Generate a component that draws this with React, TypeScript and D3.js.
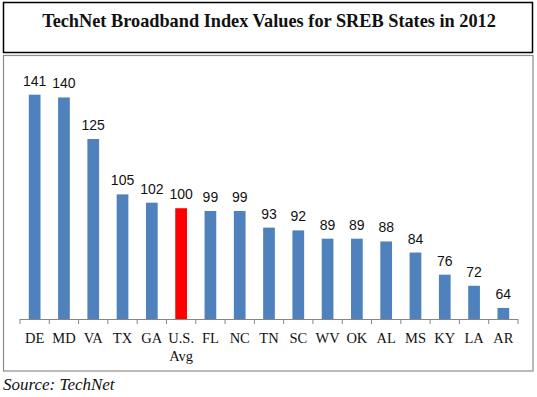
import React from 'react';
import * as d3 from 'd3';

const states = ['DE', 'MD', 'VA', 'TX', 'GA', 'U.S. Avg', 'FL', 'NC', 'TN', 'SC', 'WV', 'OK', 'AL', 'MS', 'KY', 'LA', 'AR'];
const values = [141, 140, 125, 105, 102, 100, 99, 99, 93, 92, 89, 89, 88, 84, 76, 72, 64];
const highlight = 'U.S. Avg';

const W = 537;
const H = 397;

const App = () => {
  const x0 = 20;
  const x1 = 518;
  const baseY = 319;

  // Excel-style: bars centred in each category slot
  const x = d3.scaleBand<string>()
    .domain(states)
    .range([x0, x1])
    .paddingInner(0.6)
    .paddingOuter(0.3);

  const y = d3.scaleLinear().domain([60, 145]).range([baseY, 83.6]);

  const step = (x1 - x0) / states.length;
  const ticks = d3.range(states.length + 1).map(i => x0 + i * step);

  return (
    <svg width={W} height={H} style={{ position: 'absolute', left: 0, top: 0, background: '#fff' }}>
      {/* title box */}
      <rect x={3.5} y={2.5} width={529} height={50} fill="#fff" stroke="#000" strokeWidth={1.5} />
      <text x={269} y={27} textAnchor="middle" fontFamily="'Liberation Serif', serif" fontWeight="bold" fontSize={18.3} fill="#111">
        TechNet Broadband Index Values for SREB States in 2012
      </text>

      {/* chart box */}
      <rect x={3.5} y={55.5} width={529.5} height={315.5} fill="#fff" stroke="#8c8c8c" strokeWidth={1.2} />

      {states.map((s, i) => {
        const v = values[i];
        const bx = x(s)!;
        const cx = bx + x.bandwidth() / 2;
        return (
          <g key={s}>
            <rect x={bx} y={y(v)} width={x.bandwidth()} height={baseY - y(v)} fill={s === highlight ? '#ff0000' : '#4f81bd'} />
            <text x={cx} y={y(v) - 9} textAnchor="middle" fontFamily="'Liberation Sans', sans-serif" fontSize={14} fill="#111">
              {v}
            </text>
          </g>
        );
      })}

      {/* category axis */}
      <line x1={x0} x2={x1} y1={baseY + 0.5} y2={baseY + 0.5} stroke="#868686" strokeWidth={1} />
      {ticks.map((t, i) => (
        <line key={i} x1={t} x2={t} y1={baseY} y2={baseY + 5} stroke="#868686" strokeWidth={1} />
      ))}
      {states.map(s => {
        const cx = x(s)! + x.bandwidth() / 2;
        const parts = s === 'U.S. Avg' ? ['U.S.', 'Avg'] : [s];
        return (
          <text key={s} x={cx} y={343} textAnchor="middle" fontFamily="'Liberation Serif', serif" fontSize={14.5} fill="#111">
            {parts.map((p, j) => (
              <tspan key={j} x={cx} dy={j === 0 ? 0 : 18}>{p}</tspan>
            ))}
          </text>
        );
      })}

      <text x={3} y={390} fontFamily="'Liberation Serif', serif" fontStyle="italic" fontSize={17} fill="#111">
        Source: TechNet
      </text>
    </svg>
  );
};

export default App;
